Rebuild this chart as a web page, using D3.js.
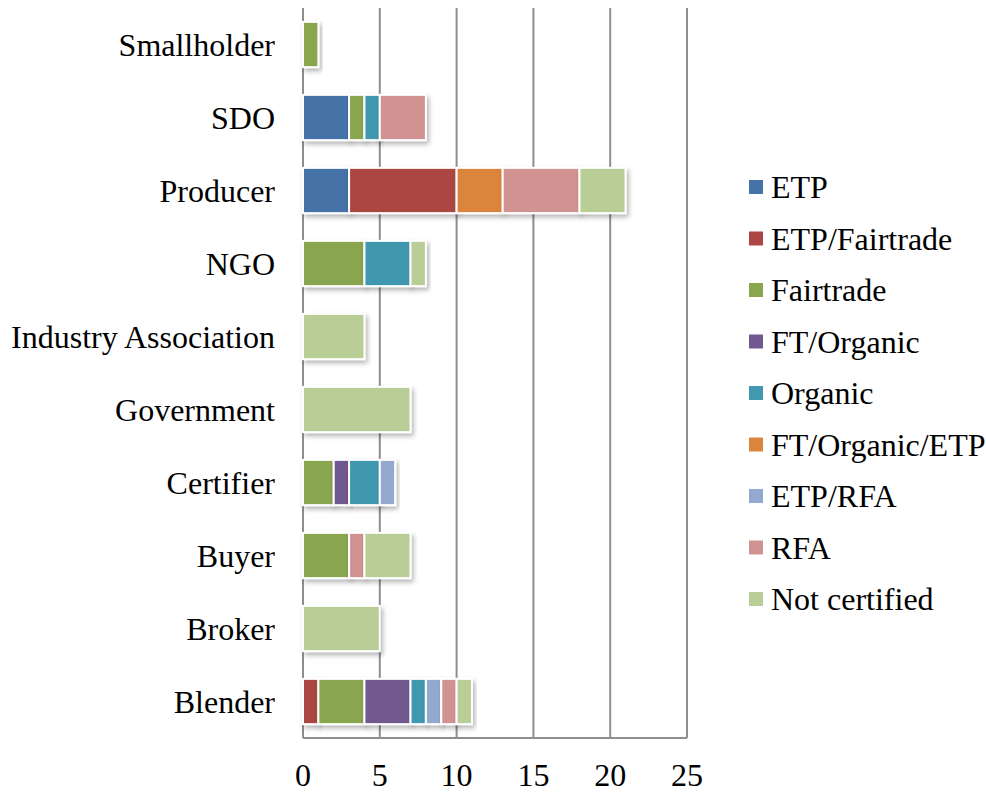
<!DOCTYPE html>
<html>
<head>
<meta charset="utf-8">
<script src="https://cdn.jsdelivr.net/npm/d3@7"></script>
<style>
  body { margin: 0; background: #fff; }
  svg text { font-family: "Liberation Serif", "Times New Roman", serif; fill: #000; }
</style>
</head>
<body>
<div id="chart"></div>
<script>
// categories, top to bottom as drawn
const categories = ["Smallholder", "SDO", "Producer", "NGO", "Industry Association",
                    "Government", "Certifier", "Buyer", "Broker", "Blender"]
const seriesNames = ["ETP", "ETP/Fairtrade", "Fairtrade", "FT/Organic", "Organic",
                     "FT/Organic/ETP", "ETP/RFA", "RFA", "Not certified"]
const seriesColors = ["#4572A7", "#AA4643", "#89A54E", "#71588F", "#4198AF",
                      "#DB843D", "#93A9CF", "#D19392", "#B9CD96"]

// one array per series, in category order above
const etp           = [0, 3, 3, 0, 0, 0, 0, 0, 0, 0]
const etpFairtrade  = [0, 0, 7, 0, 0, 0, 0, 0, 0, 1]
const fairtrade     = [1, 1, 0, 4, 0, 0, 2, 3, 0, 3]
const ftOrganic     = [0, 0, 0, 0, 0, 0, 1, 0, 0, 3]
const organic       = [0, 1, 0, 3, 0, 0, 2, 0, 0, 1]
const ftOrganicEtp  = [0, 0, 3, 0, 0, 0, 0, 0, 0, 0]
const etpRfa        = [0, 0, 0, 0, 0, 0, 1, 0, 0, 1]
const rfa           = [0, 3, 5, 0, 0, 0, 0, 1, 0, 1]
const notCertified  = [0, 0, 3, 1, 4, 7, 0, 3, 5, 1]

const xTicks = [0, 5, 10, 15, 20, 25]

const seriesValues = [etp, etpFairtrade, fairtrade, ftOrganic, organic,
                      ftOrganicEtp, etpRfa, rfa, notCertified]

const width = 986, height = 792
const plot = {left: 303, right: 687, top: 8, bottom: 738}
const fontSize = 32

const rows = categories.map((c, i) => {
  const r = {name: c}
  seriesNames.forEach((s, j) => r[s] = seriesValues[j][i])
  return r
})

const stacked = d3.stack().keys(seriesNames)(rows)

const x = d3.scaleLinear().domain([0, 25]).range([plot.left, plot.right])
const y = d3.scaleBand().domain(categories).range([plot.top, plot.bottom]).paddingInner(0.38).paddingOuter(0.19)
const color = d3.scaleOrdinal().domain(seriesNames).range(seriesColors)

const svg = d3.select("#chart").append("svg")
  .attr("width", width)
  .attr("height", height)

const defs = svg.append("defs")
const filter = defs.append("filter").attr("id", "shadow")
  .attr("x", "-20%").attr("y", "-20%").attr("width", "150%").attr("height", "160%")
filter.append("feDropShadow")
  .attr("dx", 2).attr("dy", 3).attr("stdDeviation", 2.5)
  .attr("flood-color", "#000").attr("flood-opacity", 0.3)

// grid lines
svg.append("g").selectAll("line")
  .data(xTicks)
  .enter().append("line")
  .attr("x1", d => x(d)).attr("x2", d => x(d))
  .attr("y1", plot.top).attr("y2", plot.bottom)
  .attr("stroke", "#8e8e8e")
  .attr("stroke-width", 2)

svg.append("line")
  .attr("x1", plot.left).attr("x2", plot.right)
  .attr("y1", plot.bottom).attr("y2", plot.bottom)
  .attr("stroke", "#8e8e8e")
  .attr("stroke-width", 2)

// bars
const layers = svg.append("g").selectAll("g")
  .data(stacked)
  .enter().append("g")
  .attr("fill", d => color(d.key))

layers.selectAll("rect")
  .data(d => d.filter(v => v[1] - v[0] > 0))
  .enter().append("rect")
  .attr("x", d => x(d[0]))
  .attr("y", d => y(d.data.name))
  .attr("width", d => x(d[1]) - x(d[0]))
  .attr("height", y.bandwidth())
  .attr("stroke", "#fff")
  .attr("stroke-width", 2)
  .attr("filter", "url(#shadow)")

// category labels
svg.append("g").selectAll("text")
  .data(categories)
  .enter().append("text")
  .attr("x", 275)
  .attr("y", d => y(d) + y.bandwidth() / 2)
  .attr("dy", "0.35em")
  .attr("text-anchor", "end")
  .attr("font-size", fontSize)
  .text(d => d)

// x tick labels
svg.append("g").selectAll("text")
  .data(xTicks)
  .enter().append("text")
  .attr("x", d => x(d))
  .attr("y", 775)
  .attr("dy", "0.35em")
  .attr("text-anchor", "middle")
  .attr("font-size", fontSize)
  .text(d => d)

// legend
const legend = svg.append("g").selectAll("g")
  .data(seriesNames)
  .enter().append("g")
  .attr("transform", (d, i) => "translate(749," + (187 + i * 51.5) + ")")

legend.append("rect")
  .attr("x", 0).attr("y", -7)
  .attr("width", 14).attr("height", 14)
  .attr("fill", d => color(d))

legend.append("text")
  .attr("x", 22)
  .attr("dy", "0.35em")
  .attr("font-size", fontSize)
  .text(d => d)
</script>
</body>
</html>
